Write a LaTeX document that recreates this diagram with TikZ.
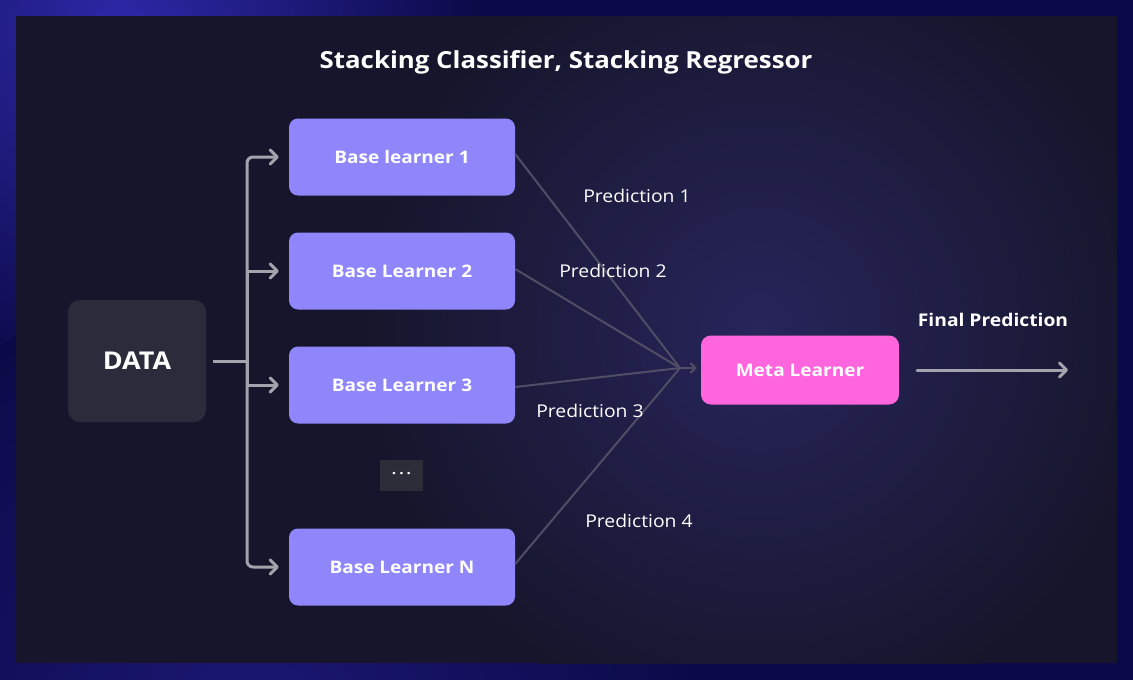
\documentclass[tikz,border=0pt]{standalone}
\usepackage{fontspec}
\setmainfont{Open Sans}[FakeStretch=1.1]
\usetikzlibrary{arrows.meta}
\definecolor{outerbg}{HTML}{0B0A48}
\definecolor{outerglow}{HTML}{2E28A8}
\definecolor{panel}{HTML}{16152B}
\definecolor{panelglow}{HTML}{27255A}
\definecolor{lav}{HTML}{8E86FA}
\definecolor{pink}{HTML}{FF66DD}
\definecolor{databox}{HTML}{2B2B3B}
\definecolor{dotbox}{HTML}{2D2D3A}
\definecolor{garrowc}{HTML}{A3A3AD}
\definecolor{plinec}{HTML}{4E4E66}
\tikzset{
  learner/.style={fill=lav, rounded corners=9pt, minimum width=226pt, minimum height=77pt,
    text=white, font=\fontsize{17.3}{20}\selectfont\bfseries, inner sep=0pt},
  datanode/.style={fill=databox, rounded corners=12pt, minimum width=138pt, minimum height=122pt,
    text=white, font=\fontsize{24.5}{26}\selectfont\bfseries, inner sep=0pt},
  metanode/.style={fill=pink, rounded corners=10pt, minimum width=198pt, minimum height=69pt,
    text=white, font=\fontsize{17.3}{20}\selectfont\bfseries, inner sep=0pt},
  dotsnode/.style={fill=dotbox, minimum width=43pt, minimum height=31pt, text=white,
    font=\fontsize{14}{16}\selectfont\bfseries, inner sep=0pt},
  predlabel/.style={text=white, font=\fontsize{17.6}{20}\selectfont, inner sep=0pt},
  boldlabel/.style={text=white, font=\fontsize{17.5}{20}\selectfont\bfseries, inner sep=0pt},
  titlenode/.style={text=white, font=\fontsize{23.5}{28}\selectfont\bfseries, inner sep=0pt},
  garrow/.style={draw=garrowc, line width=3pt, line cap=round, line join=round,
    -{Straight Barb[length=7pt,width=14pt,line width=3pt,line cap=round,line join=round]}},
  gline/.style={draw=garrowc, line width=3pt},
  pline/.style={draw=plinec, line width=2pt},
}
\begin{document}
\begin{tikzpicture}[x=1pt,y=-1pt]
\useasboundingbox (0,0) rectangle (1133,680);
% background
\fill[outerbg] (0,0) rectangle (1133,680);
\begin{scope}
\clip (0,0) rectangle (1133,680);
\shade[inner color=outerglow, outer color=outerbg] (120,30) circle (360);
\shade[inner color=outerglow!45!outerbg, outer color=outerbg] (250,720) circle (450);
\end{scope}
\fill[panel] (16,16) rectangle (1117,663);
\begin{scope}
\clip (16,16) rectangle (1117,663);
\shade[inner color=panelglow, outer color=panel] (760,330) circle (400);
\end{scope}

% title
\node[titlenode] (title) at (566,62) {Stacking Classifier, Stacking Regressor};

% nodes
\node[datanode] (data) at (137,361) {DATA};
\node[learner] (b1) at (402,157) {Base learner 1};
\node[learner] (b2) at (402,271) {Base Learner 2};
\node[learner] (b3) at (402,385) {Base Learner 3};
\node[dotsnode] (dots) at (401.5,475.5) {·\hspace{3pt}·\hspace{3pt}·};
\node[learner] (bN) at (402,567) {Base Learner N};
\node[metanode] (meta) at (800,370) {Meta Learner};

% data tree
\coordinate (branch) at (247,361);
\draw[gline, shorten <=7pt] (data.east) -- (branch);
\draw[garrow, rounded corners=6pt, shorten >=10pt] (branch) |- (b1.west);
\draw[garrow, shorten >=10pt] (branch) |- (b2.west);
\draw[garrow, shorten >=10pt] (branch) |- (b3.west);
\draw[garrow, rounded corners=6pt, shorten >=10pt] (branch) |- (bN.west);

% prediction lines
\coordinate (conv) at (680,368);
\draw[pline] ([yshift=3pt]b1.east) -- (conv);
\draw[pline] ([yshift=2pt]b2.east) -- (conv);
\draw[pline] ([yshift=-2pt]b3.east) -- (conv);
\draw[pline] ([yshift=3pt]bN.east) -- (conv);
\draw[pline, shorten >=4pt, -{Straight Barb[length=5pt,width=10pt,line width=2pt]}] (conv) -- (meta.west |- conv);

\node[predlabel] (p1) at (637,196) {Prediction 1};
\node[predlabel] (p2) at (613,271) {Prediction 2};
\node[predlabel] (p3) at (590,411) {Prediction 3};
\node[predlabel] (p4) at (639,521) {Prediction 4};

% final
\coordinate (fend) at (1068,370);
\draw[garrow, shorten <=18pt] (meta.east) -- (fend);
\node[boldlabel] (final) at (993,320) {Final Prediction};
\end{tikzpicture}
\end{document}
